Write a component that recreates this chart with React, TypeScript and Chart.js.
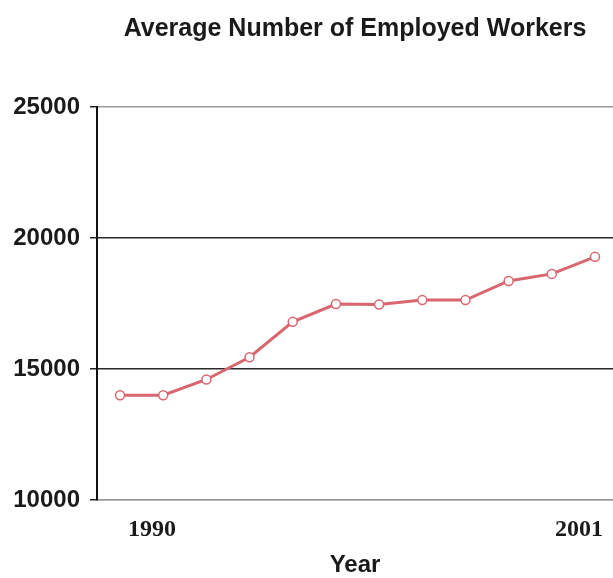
import React, { useEffect, useRef } from "react";
import { Chart, registerables } from "chart.js";

Chart.register(...registerables);

const years = [1990, 1991, 1992, 1993, 1994, 1995, 1996, 1997, 1998, 1999, 2000, 2001];
const workers = [14000, 14000, 14600, 15450, 16800, 17480, 17460, 17630, 17630, 18360, 18630, 19280];
const xTickYears = [1990, 2001];
const yTicks = [10000, 15000, 20000, 25000];

const TITLE = "Average Number of Employed Workers";
const X_TITLE = "Year";

export default function App() {
  const ref = useRef<HTMLCanvasElement | null>(null);

  useEffect(() => {
    if (!ref.current) return;
    const chart = new Chart(ref.current, {
      type: "line",
      data: {
        datasets: [
          {
            label: "Workers",
            data: years.map((y, i) => ({ x: y, y: workers[i] })),
            borderColor: "#d9656e",
            borderWidth: 3,
            pointRadius: 4.5,
            pointBackgroundColor: "#ffffff",
            pointBorderColor: "#d9656e",
            pointBorderWidth: 1.5,
            tension: 0,
          },
        ],
      },
      options: {
        animation: false,
        responsive: false,
        maintainAspectRatio: false,
        layout: { padding: { left: 13, right: 0, top: 0, bottom: 0 } },
        plugins: {
          legend: { display: false },
          tooltip: { enabled: false },
          title: {
            display: true,
            text: TITLE,
            fullSize: false,
            color: "#1a1a1a",
            font: { family: "'Liberation Sans', Arial, sans-serif", size: 25, weight: "bold" },
            padding: { top: 14, bottom: 63 },
          },
        },
        scales: {
          x: {
            type: "linear",
            min: 1989.467,
            max: 2001.417,
            afterBuildTicks: (scale: any) => {
              scale.ticks = xTickYears.map((v) => ({ value: v }));
            },
            afterFit: (scale: any) => {
              scale.height = 78;
              scale.paddingLeft = 0;
              scale.paddingRight = 0;
            },
            grid: { display: false, drawTicks: false },
            border: { display: true, color: "#9a9a9a", width: 1.5 },
            ticks: {
              align: "inner",
              labelOffset: 8,
              padding: 15,
              color: "#1a1a1a",
              font: { family: "'Liberation Serif', 'Times New Roman', serif", size: 24, weight: "bold" },
              callback: (v: any) => String(v),
            },
            title: {
              display: true,
              text: X_TITLE,
              color: "#1a1a1a",
              font: { family: "'Liberation Sans', Arial, sans-serif", size: 24, weight: "bold", lineHeight: 1.05 },
              padding: { top: 5, bottom: 0 },
            },
          },
          y: {
            type: "linear",
            min: 10000,
            max: 25000,
            afterBuildTicks: (scale: any) => {
              scale.ticks = yTicks.map((v) => ({ value: v }));
            },
            afterFit: (scale: any) => {
              scale.width = 84;
              scale.paddingTop = 0;
              scale.paddingBottom = 0;
            },
            grid: {
              color: (ctx: any) => {
                const v = ctx.tick ? ctx.tick.value : 0;
                return v === 25000 || v === 10000 ? "#9a9a9a" : "#2a2a2a";
              },
              lineWidth: 1.5,
              tickLength: 7,
              tickColor: "#222222",
            },
            border: { display: true, color: "#111111", width: 2 },
            ticks: {
              padding: 10,
              color: "#1a1a1a",
              font: { family: "'Liberation Sans', Arial, sans-serif", size: 24, weight: "bold" },
              callback: (v: any) => String(v),
            },
          },
        },
      },
    });
    return () => chart.destroy();
  }, []);

  return (
    <div style={{ position: "absolute", left: 0, top: 0, width: 613, height: 578, overflow: "hidden", background: "#ffffff" }}>
      <canvas ref={ref} width={619} height={578} style={{ display: "block", width: 619, height: 578 }} />
    </div>
  );
}
